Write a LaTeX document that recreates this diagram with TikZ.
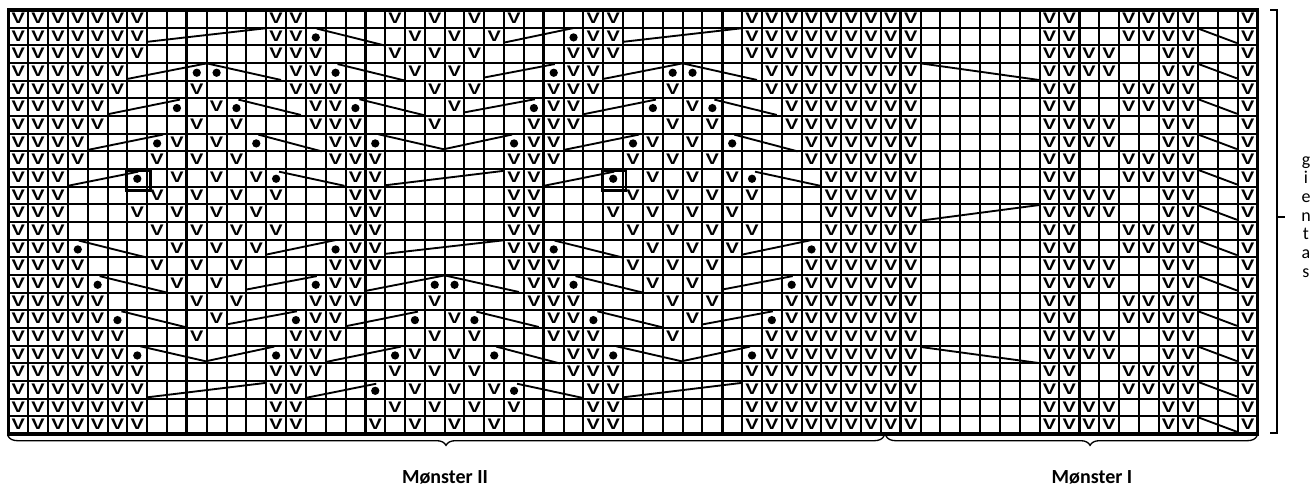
\documentclass[tikz,border=0pt]{standalone}
\usepackage{fontspec}
\setmainfont{Carlito}
\newfontfamily\vfont{Liberation Sans}
\usetikzlibrary{decorations.pathreplacing}
\begin{document}
\begin{tikzpicture}[x=0.75pt,y=-0.75pt,
  gridln/.style={line width=1.5pt},
  thickln/.style={line width=2.4pt},
  vst/.style={inner sep=0pt, font=\vfont\bfseries\fontsize{11.5}{11.5}\selectfont},
  dotst/.style={circle, fill=black, inner sep=0pt, minimum size=6.2pt},
  cable/.style={line width=1.4pt},
  boxst/.style={line width=2pt},
  bracest/.style={line width=1pt, decorate, decoration={brace, mirror, amplitude=7pt}},
  lbl/.style={font=\bfseries\fontsize{15}{17}\selectfont}]
\useasboundingbox (0,0) rectangle (1315,490);
\fill[white] (0,0) rectangle (1315,490);
\begin{scope}[shift={(8.4,10)}, x=14.8725pt, y=-13.2525pt]
  % grid
  \foreach \k in {0,...,63} \draw[gridln] (\k,0) -- (\k,24);
  \foreach \k in {0,...,24} \draw[gridln] (0,\k) -- (63,\k);
  \foreach \k in {9,18,27,36,45,54} \draw[thickln] (\k,0) -- (\k,24);
  \draw[thickln] (0,0) rectangle (63,24);
  % V stitches
  \foreach \r/\cl in {
   0/{0,1,2,3,4,5,6,13,14,19,21,23,25,29,30,37,38,39,40,41,42,43,44,45,52,53,56,57,58,59,62},
   1/{0,1,2,3,4,5,6,13,14,20,22,24,29,30,37,38,39,40,41,42,43,44,45,52,53,56,57,58,59,62},
   2/{0,1,2,3,4,5,6,13,14,15,19,21,23,28,29,30,37,38,39,40,41,42,43,44,45,52,53,54,55,58,59,62},
   3/{0,1,2,3,4,5,14,15,20,22,28,29,38,39,40,41,42,43,44,45,52,53,54,55,58,59,62},
   4/{0,1,2,3,4,5,9,14,15,16,21,23,27,28,29,33,38,39,40,41,42,43,44,45,52,53,56,57,58,59,62},
   5/{0,1,2,3,4,10,15,16,22,27,28,34,39,40,41,42,43,44,45,52,53,56,57,58,59,62},
   6/{0,1,2,3,4,9,11,15,16,17,21,26,27,28,33,35,39,40,41,42,43,44,45,52,53,54,55,58,59,62},
   7/{0,1,2,3,8,10,16,17,26,27,32,34,40,41,42,43,44,45,52,53,54,55,58,59,62},
   8/{0,1,2,3,7,9,11,16,17,18,25,26,27,31,33,35,40,41,42,43,44,45,52,53,56,57,58,59,62},
   9/{0,1,2,8,10,12,17,18,25,26,32,34,36,41,42,43,44,45,52,53,56,57,58,59,62},
   10/{0,1,2,7,9,11,13,17,18,25,26,31,33,35,37,41,42,43,44,45,52,53,54,55,58,59,62},
   11/{0,1,2,6,8,10,12,17,18,25,26,30,32,34,36,41,42,43,44,45,52,53,54,55,58,59,62},
   12/{0,1,2,7,9,11,13,17,18,25,26,31,33,35,37,41,42,43,44,45,52,53,56,57,58,59,62},
   13/{0,1,2,8,10,12,17,18,25,26,32,34,36,41,42,43,44,45,52,53,56,57,58,59,62},
   14/{0,1,2,3,7,9,11,16,17,18,25,26,27,31,33,35,40,41,42,43,44,45,52,53,54,55,58,59,62},
   15/{0,1,2,3,8,10,16,17,26,27,32,34,40,41,42,43,44,45,52,53,54,55,58,59,62},
   16/{0,1,2,3,4,9,11,15,16,17,21,26,27,28,33,35,39,40,41,42,43,44,45,52,53,56,57,58,59,62},
   17/{0,1,2,3,4,10,15,16,22,27,28,34,39,40,41,42,43,44,45,52,53,56,57,58,59,62},
   18/{0,1,2,3,4,5,9,14,15,16,21,23,27,28,29,33,38,39,40,41,42,43,44,45,52,53,54,55,58,59,62},
   19/{0,1,2,3,4,5,14,15,20,22,28,29,38,39,40,41,42,43,44,45,52,53,54,55,58,59,62},
   20/{0,1,2,3,4,5,6,13,14,15,19,21,23,28,29,30,37,38,39,40,41,42,43,44,45,52,53,56,57,58,59,62},
   21/{0,1,2,3,4,5,6,13,14,20,22,24,29,30,37,38,39,40,41,42,43,44,45,52,53,56,57,58,59,62},
   22/{0,1,2,3,4,5,6,13,14,19,21,23,25,29,30,37,38,39,40,41,42,43,44,45,52,53,54,55,58,59,62},
   23/{0,1,2,3,4,5,6,13,14,18,20,22,24,29,30,37,38,39,40,41,42,43,44,45,52,53,54,55,58,59,62}}
  { \foreach \c in \cl { \node[vst] (v-\r-\c) at (\c+0.5,\r+0.47) {\scalebox{1.3}[1]{V}}; } }
  % dots
  \foreach \r/\c in {1/15,1/28,3/9,3/10,3/16,3/27,3/33,3/34,5/8,5/11,5/17,5/26,5/32,5/35,
    7/7,7/12,7/18,7/25,7/31,7/36,9/6,9/13,9/30,9/37,13/3,13/16,13/27,13/40,
    15/4,15/15,15/21,15/22,15/28,15/39,17/5,17/14,17/20,17/23,17/29,17/38,
    19/6,19/13,19/19,19/24,19/30,19/37,21/18,21/25}
    \node[dotst] (d-\r-\c) at (\c+0.5,\r+0.55) {};
  % boxes
  \foreach \m in {10,34} \draw[boxst] (\m-4.07,9.12) rectangle (\m-2.85,10.22);
  % diverging cables (upper half of diamonds)
  \foreach \m/\o in {10/0,34/0,22/12} {
    \draw[cable] (\m-4,3.9+\o) -- (\m,3.02+\o) -- (\m+3.75,3.96+\o);
    \draw[cable] (\m-5,5.9+\o) -- (\m-1.35,5.07+\o);
    \draw[cable] (\m+1.6,5.07+\o) -- (\m+4.75,5.94+\o);
    \draw[cable] (\m-6,7.92+\o) -- (\m-2.2,7.05+\o);
    \draw[cable] (\m+2.6,7.05+\o) -- (\m+5.8,8.0+\o);
    \draw[cable] (\m-7,9.95+\o) -- (\m-3.45,9.15+\o);
    \draw[cable] (\m+3.65,9.15+\o) -- (\m+6.95,9.95+\o);
    \draw[cable] (\m-3,1.8+\o) -- (\m+3,1.03+\o);
  }
  % converging cables (lower half of diamonds)
  \foreach \m/\o in {10/0,34/0,22/-12} {
    \draw[cable] (\m-6.45,13.05+\o) -- (\m-3.05,14.0+\o);
    \draw[cable] (\m+2.97,13.85+\o) -- (\m+6.5,13.02+\o);
    \draw[cable] (\m-5.4,15.06+\o) -- (\m-2.05,15.98+\o);
    \draw[cable] (\m+2.0,15.82+\o) -- (\m+5.55,15.06+\o);
    \draw[cable] (\m-4.3,17.05+\o) -- (\m-1.05,17.95+\o);
    \draw[cable] (\m+0.97,17.8+\o) -- (\m+4.55,17.05+\o);
    \draw[cable] (\m-3.35,19.03+\o) -- (\m-0.05,19.88+\o) -- (\m+3.4,19.05+\o);
    \draw[cable] (\m-3,21.92+\o) -- (\m+3,21.1+\o);
  }
  % Moenster I cables
  \draw[cable] (46,3.02) -- (51.97,3.96);
  \draw[cable] (46,11.92) -- (51.97,11.04);
  \draw[cable] (46,19.07) -- (51.97,19.98);
  \foreach \r in {1,3,...,23} \draw[cable] (60,\r+0.05) -- (61.95,\r+0.87);
\end{scope}
% braces and labels
\draw[bracest] (8,436) -- (884,436);
\draw[bracest, decoration={aspect=0.55}] (886,436) -- (1257,436);
\node[lbl] (m2) at (445,477) {Mønster II};
\node[lbl] (m1) at (1092,477) {Mønster I};
\draw[line width=1.2pt] (1270,10) -- (1277,10) -- (1277,433) -- (1270,433);
\draw[line width=1.2pt] (1277,217) -- (1285,217);
\node[font=\fontsize{13.5}{14}\selectfont, align=center, inner sep=0pt] (rep) at (1306,217) {g\\i\\e\\n\\t\\a\\s};
\end{tikzpicture}
\end{document}
